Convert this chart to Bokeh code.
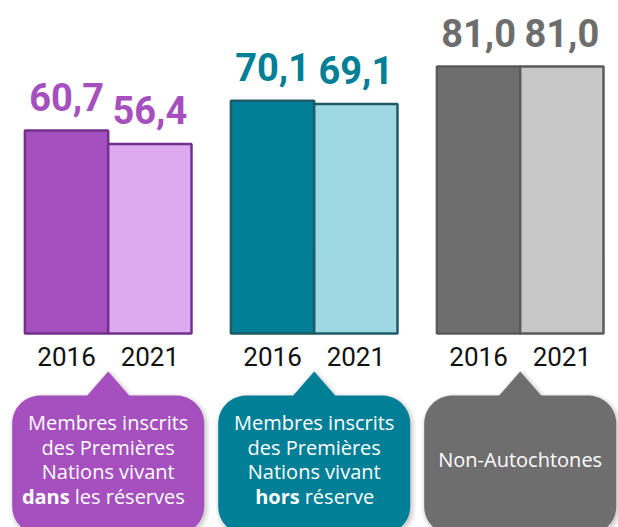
import numpy as np
from bokeh.plotting import figure
from bokeh.models import ColumnDataSource, Range1d
from bokeh.core.properties import value
from bokeh.embed import file_html
from bokeh.resources import INLINE

# ---------------- data ----------------
groups = ["dans les réserves", "hors réserve", "Non-Autochtones"]
years = ["2016", "2021"]
values_2016 = [60.7, 70.1, 81.0]
values_2021 = [56.4, 69.1, 81.0]

caption_lines = [
    ["Membres inscrits", "des Premières", "Nations vivant"],
    ["Membres inscrits", "des Premières", "Nations vivant"],
    ["Non-Autochtones"],
]
caption_bold = ["dans", "hors", ""]
caption_tail = ["les réserves", "réserve", ""]

# ---------------- style ----------------
fill_2016 = ["#a550be", "#007f96", "#6e6e6e"]
fill_2021 = ["#dcaaee", "#9dd8e3", "#c8c8c8"]
edge_col = ["#72308c", "#1d5b66", "#5a5a5a"]
label_col = ["#a550be", "#007f96", "#6d6d6d"]
box_col = ["#a550be", "#007f96", "#6e6e6e"]
bold_right_px = [-38.5, -14.5, 0]
tail_left_px = [-33.5, -9.5, 0]

W, H = 618, 527
PXU_X = 83.3        # px per bar
GAP = 0.473         # gap between groups, in bar widths
LEFT_PX = 24.4      # first bar's left edge in the frame
PXU_Y = 3.153       # px per value unit
ZERO_PX = 321.4     # frame y of value 0
BASE = -(333 - ZERO_PX) / PXU_Y   # bars reach a little below the zero line

x_start = -LEFT_PX / PXU_X
x_end = (W - LEFT_PX) / PXU_X
y_start = -(H - ZERO_PX) / PXU_Y
y_end = ZERO_PX / PXU_Y

def xd(px):
    return x_start + np.asarray(px) / PXU_X

def xp(xv):
    return (np.asarray(xv) - x_start) * PXU_X

def yd(py):
    return (ZERO_PX - np.asarray(py)) / PXU_Y

p = figure(width=W, height=H, x_range=Range1d(x_start, x_end),
           y_range=Range1d(y_start, y_end), output_backend="svg",
           toolbar_location=None, min_border=0)
p.axis.visible = False
p.grid.visible = False
p.outline_line_color = None
p.background_fill_color = "white"
p.border_fill_color = "white"

# ---------------- bars ----------------
bx, btop, bfill, bedge, blab, blabcol, byear = [], [], [], [], [], [], []
for g in range(len(groups)):
    for j, (vals, fills) in enumerate([(values_2016, fill_2016), (values_2021, fill_2021)]):
        bx.append(g * (2 + GAP) + j + 0.5)
        btop.append(vals[g])
        bfill.append(fills[g])
        bedge.append(edge_col[g])
        blab.append(f"{vals[g]:.1f}".replace(".", ","))
        blabcol.append(label_col[g])
        byear.append(years[j])

bars = ColumnDataSource(dict(x=bx, top=btop, fill=bfill, edge=bedge,
                             lab=blab, labcol=blabcol, year=byear))
p.vbar(x="x", width=1, bottom=BASE, top="top", source=bars,
       fill_color="fill", line_color="edge", line_width=2.5)

p.text(x="x", y="top", text="lab", source=bars, text_color="labcol",
       text_font=value("Roboto"), text_font_style="bold",
       text_font_size="38px", text_align="center", text_baseline="alphabetic",
       y_offset=-34)

p.text(x="x", y=BASE, text="year", source=bars, text_color="#111111",
       text_font=value("Roboto"), text_font_size="26px",
       text_align="center", text_baseline="alphabetic", y_offset=23)

# ---------------- callouts ----------------
BOX_HALF = 96
BOX_TOP = 395
BOX_BOT = 534
RAD = 28
TIP_Y = 371
TIP_HALF = 21

def arc(cx, cy, a0, a1, n=12):
    t = np.linspace(a0, a1, n)
    return list(cx + RAD * np.cos(t)), list(cy - RAD * np.sin(t))

def callout(cpx):
    L, R = cpx - BOX_HALF, cpx + BOX_HALF
    xs, ys = [], []
    ax, ay = arc(L + RAD, BOX_TOP + RAD, np.pi, np.pi / 2)
    xs += ax; ys += ay
    xs += [cpx - TIP_HALF, cpx, cpx + TIP_HALF]
    ys += [BOX_TOP, TIP_Y, BOX_TOP]
    ax, ay = arc(R - RAD, BOX_TOP + RAD, np.pi / 2, 0)
    xs += ax; ys += ay
    ax, ay = arc(R - RAD, BOX_BOT - RAD, 0, -np.pi / 2)
    xs += ax; ys += ay
    ax, ay = arc(L + RAD, BOX_BOT - RAD, -np.pi / 2, -np.pi)
    xs += ax; ys += ay
    return np.array(xs), np.array(ys)

sh_xs, sh_ys, cx_s, cy_s, cfill = [], [], [], [], []
for g in range(len(groups)):
    cpx = float(xp(g * (2 + GAP) + 1))
    px_, py_ = callout(cpx)
    sh_xs.append(list(xd(px_ + 1.5)))
    sh_ys.append(list(yd(py_ + 2)))
    cx_s.append(list(xd(px_)))
    cy_s.append(list(yd(py_)))
    cfill.append(box_col[g])

# soft shadow
p.patches(xs=sh_xs, ys=sh_ys, fill_color="black", fill_alpha=0.0,
          line_color="black", line_alpha=0.05, line_width=8)
p.patches(xs=sh_xs, ys=sh_ys, fill_color="black", fill_alpha=0.08,
          line_color="black", line_alpha=0.06, line_width=4)
p.patches(xs=cx_s, ys=cy_s, fill_color=cfill, line_color=None)

# caption text
tx, ty, tt = [], [], []
bxl, byl, btl = [], [], []
rx, ry, rt = [], [], []
for g in range(len(groups)):
    center = g * (2 + GAP) + 1
    lines = caption_lines[g]
    if caption_bold[g]:
        offs = [27, 51.5, 76]
        for k, line in enumerate(lines):
            tx.append(center); ty.append(float(yd(BOX_TOP + offs[k]))); tt.append(line)
        last = float(yd(BOX_TOP + 100.5))
        bxl.append(center + bold_right_px[g] / PXU_X); byl.append(last); btl.append(caption_bold[g])
        rx.append(center + tail_left_px[g] / PXU_X); ry.append(last); rt.append(caption_tail[g])
    else:
        tx.append(center); ty.append(float(yd(BOX_TOP + 64))); tt.append(lines[0])

FONT = value("Open Sans")
p.text(x=tx, y=ty, text=tt, text_color="white", text_font=FONT,
       text_font_size="20px", text_align="center", text_baseline="alphabetic")
p.text(x=bxl, y=byl, text=btl, text_color="white", text_font=FONT,
       text_font_style="bold", text_font_size="20px", text_align="right",
       text_baseline="alphabetic")
p.text(x=rx, y=ry, text=rt, text_color="white", text_font=FONT,
       text_font_size="20px", text_align="left", text_baseline="alphabetic")

open("out.html", "w").write(file_html(p, INLINE))
